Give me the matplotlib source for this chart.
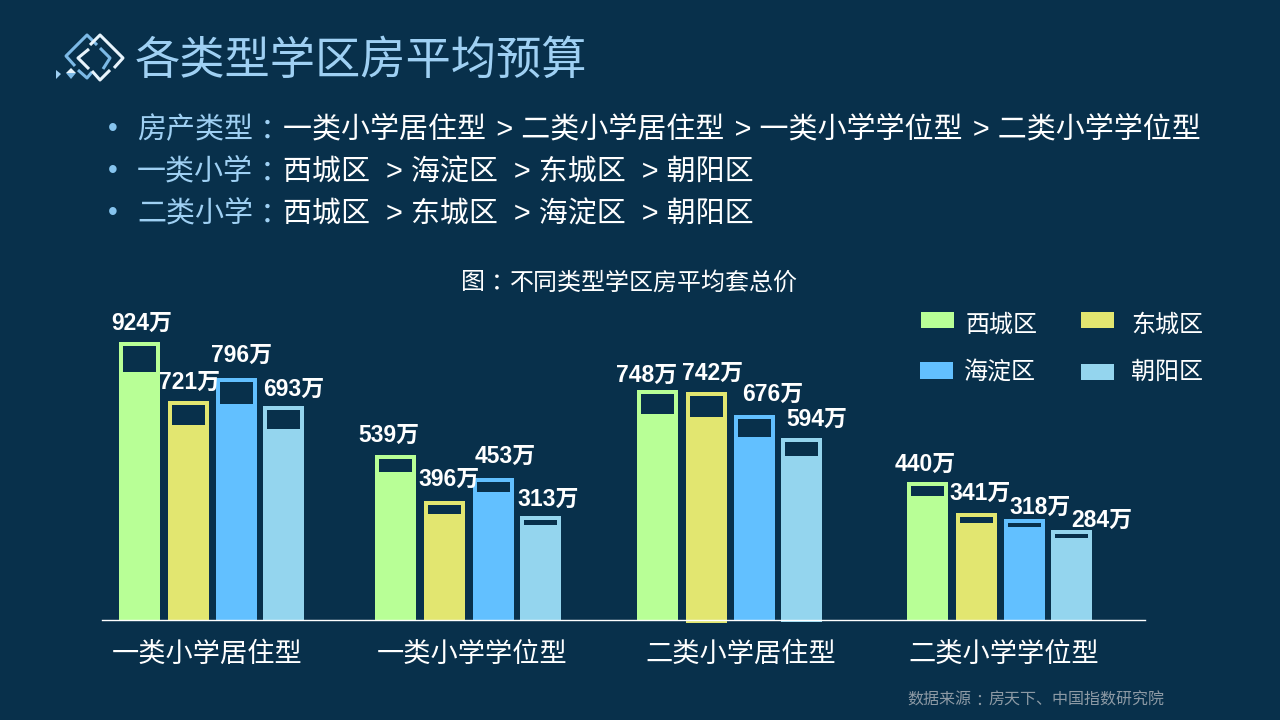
import matplotlib
matplotlib.use("Agg")
import matplotlib.pyplot as plt
from matplotlib.patches import Rectangle

plt.rcParams['font.family'] = ['Liberation Sans', 'Noto Sans CJK SC', 'DejaVu Sans']

# datos
grupos = ["一类小学居住型", "一类小学学位型", "二类小学居住型", "二类小学学位型"]
distritos = ["西城区", "东城区", "海淀区", "朝阳区"]
xicheng = [924, 539, 748, 440]
dongcheng = [721, 396, 742, 341]
haidian = [796, 453, 676, 318]
chaoyang = [693, 313, 594, 284]
# altura dibujada de cada columna (no coincide del todo con la etiqueta)
alto_xicheng = [927, 550, 767, 460]
alto_dongcheng = [730, 397, 760, 357]
alto_haidian = [807, 473, 683, 337]
alto_chaoyang = [713, 347, 607, 300]
# donde empieza el hueco oscuro de arriba
hueco_xicheng = [827, 493, 687, 413]
hueco_dongcheng = [650, 353, 677, 323]
hueco_haidian = [720, 427, 610, 310]
hueco_chaoyang = [637, 317, 547, 273]

titulo = "各类型学区房平均预算"
lineas = [("房产类型", "一类小学居住型 \u200a> 二类小学居住型 \u200a> 一类小学学位型 \u200a> 二类小学学位型"),
          ("一类小学", "西城区  > 海淀区  > 东城区  > 朝阳区"),
          ("二类小学", "西城区  > 东城区  > 海淀区  > 朝阳区")]
titulo_izq = "图"
titulo_der = "不同类型学区房平均套总价"
fuente_izq = "数据来源"
fuente_der = "房天下、中国指数研究院"

# estilo
fondo = "#08304b"
celeste = "#9fd0f3"
azul_logo = "#7cb9e6"
blanco_logo = "#e8f4fc"
colores = ["#b8ff96", "#e2e670", "#62c0ff", "#94d5ee"]
W, H = 1280, 720

fig = plt.figure(figsize=(W / 100, H / 100), dpi=100, facecolor=fondo)

# capa en pixeles para el icono y los textos
capa = fig.add_axes([0, 0, 1, 1])
capa.set_xlim(0, W)
capa.set_ylim(H, 0)
capa.axis("off")

# logo: trazos sueltos de los dos rombos
tramos_azul = [[(75, 66), (66, 56), (87, 35), (97, 45)],
               [(78, 70), (87, 78), (92, 72)],
               [(100, 48), (110, 58), (103, 69)]]
tramos_blanco = [[(90, 45), (100, 35), (123, 58), (114, 68)],
                 [(89, 49), (78, 58), (89, 69)],
                 [(92, 71), (100, 80), (110, 70)]]
for tramos, color in [(tramos_azul, azul_logo), (tramos_blanco, blanco_logo)]:
    for t in tramos:
        capa.plot([p[0] for p in t], [p[1] for p in t], color=color, lw=2.2, solid_capstyle="butt")
capa.fill([66, 71, 76, 71], [73, 68, 73, 73], color=blanco_logo, lw=0)
capa.fill([66, 71, 76], [73, 79, 73], color=azul_logo, lw=0)
capa.fill([56, 61, 56], [70, 74, 79], color=celeste, lw=0)


def con_dos_puntos(x, y, izq, der, px, c_izq, c_der, peso="light"):
    # el ：de SC cae abajo a la izquierda; el de TC va centrado como en el original
    tam = px * 0.72
    capa.text(x, y, izq, color=c_izq, fontsize=tam, va="center", ha="left", weight=peso)
    xc = x + len(izq) * px + px / 2
    capa.text(xc, y + px * 0.07, "：", color=c_izq, fontsize=tam, va="center", ha="center",
              family=["Noto Sans CJK TC"], weight=peso)
    capa.text(xc + px / 2 + 1, y, der, color=c_der, fontsize=tam, va="center", ha="left", weight=peso)


capa.text(135, 62, titulo, color=celeste, fontsize=32.6, va="center", ha="left", weight="light")
for i, (pre, resto) in enumerate(lineas):
    y = 130 + 42 * i
    capa.text(108, y - 1, "•", color="#86c4ee", fontsize=20, va="center", ha="left")
    con_dos_puntos(137, y, pre, resto, 29, celeste, "white")
con_dos_puntos(461, 283, titulo_izq, titulo_der, 24, "white", "white")
con_dos_puntos(907, 700, fuente_izq, fuente_der, 16, "#8d9aa5", "#8d9aa5", peso="normal")

# columnas
paso = 262.7
x0 = 211.5
ax = fig.add_axes([102 / W, 100 / H, 1043 / W, 320 / H])
ax.patch.set_alpha(0)
ax.set_xlim((102 - x0) / paso, (1145 - x0) / paso)
ax.set_ylim(0, 320 / 0.3)

pos_grupo = [0, 0.978, 1.972, 3.0]
desv = [-72.5 / paso, -23.5 / paso, 25 / paso, 72 / paso]
ancho = 41 / paso
grueso_x = 4 / paso
grueso_y = 4 / 0.3

valores = [xicheng, dongcheng, haidian, chaoyang]
altos = [alto_xicheng, alto_dongcheng, alto_haidian, alto_chaoyang]
huecos = [hueco_xicheng, hueco_dongcheng, hueco_haidian, hueco_chaoyang]

# desplazamiento de cada etiqueta en pixeles, serie por serie
etq_dx = [[2.5, -7, -10.5, -1.5], [1.5, 4.5, 6.5, 3.5], [4.5, 12, 18.5, 15.5], [10.5, 7.5, 15.5, 30]]
etq_dy = [[19, 20, 15, 18], [19, 22, 19, 20], [23, 22, 21, 12], [17, 17, 19, 10]]

for s in range(4):
    xs = [pos_grupo[g] + desv[s] for g in range(4)]
    ax.bar(xs, altos[s], width=ancho, color=colores[s], lw=0, zorder=2)
    interior = [a - h - grueso_y for a, h in zip(altos[s], huecos[s])]
    ax.bar(xs, interior, bottom=huecos[s], width=ancho - 2 * grueso_x, color=fondo, lw=0, zorder=3)
    for g in range(4):
        ax.annotate("{}万".format(valores[s][g]), (xs[g], altos[s][g]),
                    xytext=(etq_dx[s][g], etq_dy[s][g]), textcoords="offset pixels",
                    color="white", fontsize=16.5, weight="bold", ha="center", va="center", zorder=5)

# dos columnas del tercer grupo bajan un poco de la linea
ax.bar(pos_grupo[2] + desv[1], 10, bottom=-10, width=ancho, color=colores[1], lw=0, clip_on=False, zorder=2)
ax.bar(pos_grupo[2] + desv[3], 5, bottom=-5, width=ancho, color=colores[3], lw=0, clip_on=False, zorder=2)

for lado in ["top", "left", "right"]:
    ax.spines[lado].set_visible(False)
ax.spines["bottom"].set_color("white")
ax.spines["bottom"].set_linewidth(1)
ax.spines["bottom"].set_zorder(4)
ax.set_yticks([])
ax.set_xticks([-4 / paso, 0.98 + 3 / paso, 1.972 + 11 / paso, 3 + 4 / paso])
ax.set_xticklabels(grupos, color="white", fontsize=19.6, weight="light")
ax.tick_params(axis="x", length=0, pad=16)

# leyenda a mano, las cajas no estan alineadas en el original
cajas = [(921, 312, 33, 16), (1081, 312, 33, 16), (920, 362, 33, 17), (1081, 364, 33, 16)]
textos_x = [966, 1131, 964, 1131]
textos_y = [325, 325, 373, 373]
for i in range(4):
    capa.add_patch(Rectangle(cajas[i][:2], cajas[i][2], cajas[i][3], color=colores[i], lw=0))
    capa.text(textos_x[i], textos_y[i], distritos[i], color="white", fontsize=17.3,
              va="center", ha="left", weight="light")

fig.savefig("out.png", dpi=100, facecolor=fondo)
